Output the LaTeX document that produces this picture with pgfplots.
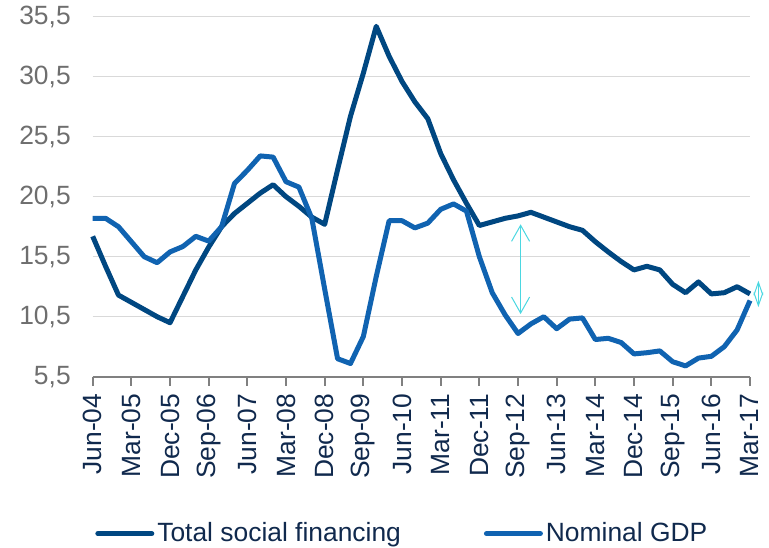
\documentclass[border=0pt]{standalone}
\usepackage{pgfplots}
\pgfplotsset{compat=1.18}
\usepackage{fontspec}
\setmainfont{Liberation Sans}
\usetikzlibrary{arrows.meta}
\definecolor{tsf}{RGB}{0,71,129}
\definecolor{gdp}{RGB}{16,99,177}
\definecolor{txtnavy}{RGB}{16,41,77}
\definecolor{tickgray}{RGB}{110,110,110}
\definecolor{axgray}{RGB}{128,128,128}
\definecolor{gridgray}{RGB}{217,217,217}
\definecolor{arrcol}{RGB}{75,215,225}
\pgfplotstableread{
x tsf gdp
0 17.2 18.7
1 14.7 18.7
2 12.3 18.0
3 11.7 16.75
4 11.1 15.5
5 10.5 15.0
6 10.0 15.9
7 12.2 16.35
8 14.4 17.2
9 16.3 16.8
10 18.0 18.0
11 19.1 21.6
12 19.95 22.7
13 20.8 23.9
14 21.5 23.8
15 20.5 21.75
16 19.7 21.3
17 18.8 18.7
18 18.2 12.8
19 22.75 7.0
20 27.2 6.6
21 30.8 8.85
22 34.7 13.85
23 32.2 18.5
24 30.1 18.5
25 28.4 17.9
26 27.0 18.3
27 24.1 19.45
28 21.9 19.9
29 19.95 19.3
30 18.1 15.5
31 18.4 12.5
32 18.7 10.65
33 18.9 9.1
34 19.2 9.9
35 18.8 10.5
36 18.4 9.5
37 18.0 10.3
38 17.7 10.4
39 16.75 8.6
40 15.9 8.7
41 15.1 8.35
42 14.4 7.4
43 14.7 7.5
44 14.4 7.65
45 13.2 6.75
46 12.5 6.4
47 13.4 7.05
48 12.4 7.2
49 12.5 8.0
50 13.0 9.4
51 12.4 11.85
}\datatable
\begin{document}
\begin{tikzpicture}
\begin{axis}[
  scale only axis,
  width=328.65pt, height=180pt,
  xmin=0, xmax=51, ymin=5.5, ymax=35.5,
  clip=false,
  axis x line*=bottom, axis y line*=left,
  y axis line style={draw=none},
  x axis line style={draw=axgray, line width=1pt},
  ytick={5.5,10.5,...,35.5},
  xtick={0,3,...,51},
  xticklabels={Jun-04,Mar-05,Dec-05,Sep-06,Jun-07,Mar-08,Dec-08,Sep-09,Jun-10,Mar-11,Dec-11,Sep-12,Jun-13,Mar-14,Dec-14,Sep-15,Jun-16,Mar-17},
  ytick style={draw=none},
  xtick style={draw=axgray, line width=1pt},
  tick align=outside, major tick length=4.5pt,
  ymajorgrids, grid style={draw=gridgray, line width=0.6pt},
  /pgf/number format/.cd, use comma, fixed, fixed zerofill, precision=1, assume math mode=true, /pgfplots/.cd,
  yticklabel style={font=\fontsize{13.2}{15}\selectfont, text=tickgray, anchor=east, inner sep=0pt, xshift=-2.8pt},
  yticklabel shift=3.5pt,
  xticklabel style={font=\fontsize{13.2}{15}\selectfont, text=txtnavy, rotate=90, anchor=east, inner sep=0pt},
  xticklabel shift=3.8pt,
  legend style={at={(rel axis cs:0.004,-0.436)}, anchor=west, draw=none, fill=none, inner sep=0pt, outer sep=0pt,
    font=\fontsize{13.2}{15}\selectfont, text=txtnavy, nodes={inner sep=1.5pt},
    /tikz/every even column/.append style={column sep=40pt}},
  legend columns=2,
  legend image code/.code={\draw[#1, line width=2.5pt, line cap=round] (0pt,0pt) -- (27pt,0pt);},
]
\coordinate (sw) at (rel axis cs:0,0);
\addplot[tsf, line width=2.5pt, line join=round] table[x=x, y=tsf] {\datatable};
\addlegendentry{Total social financing}
\addplot[gdp, line width=2.5pt, line join=round] table[x=x, y=gdp] {\datatable};
\addlegendentry{Nominal GDP}
\addplot[arrcol, line width=0.5pt, forget plot, {Straight Barb[length=8pt,width=9pt]}-{Straight Barb[length=8pt,width=9pt]}] coordinates {(33.2,18.2) (33.2,10.72)};
\addplot[arrcol, line width=0.5pt, forget plot, {Straight Barb[length=6.5pt,width=4.5pt]}-{Straight Barb[length=6.5pt,width=4.5pt]}] coordinates {(51.65,13.5) (51.65,11.3)};
\end{axis}
\pgfresetboundingbox
\path[use as bounding box] ([shift={(-46.35pt,-85.15pt)}]sw) rectangle ++(384.5pt,273.5pt);
\end{tikzpicture}
\end{document}
